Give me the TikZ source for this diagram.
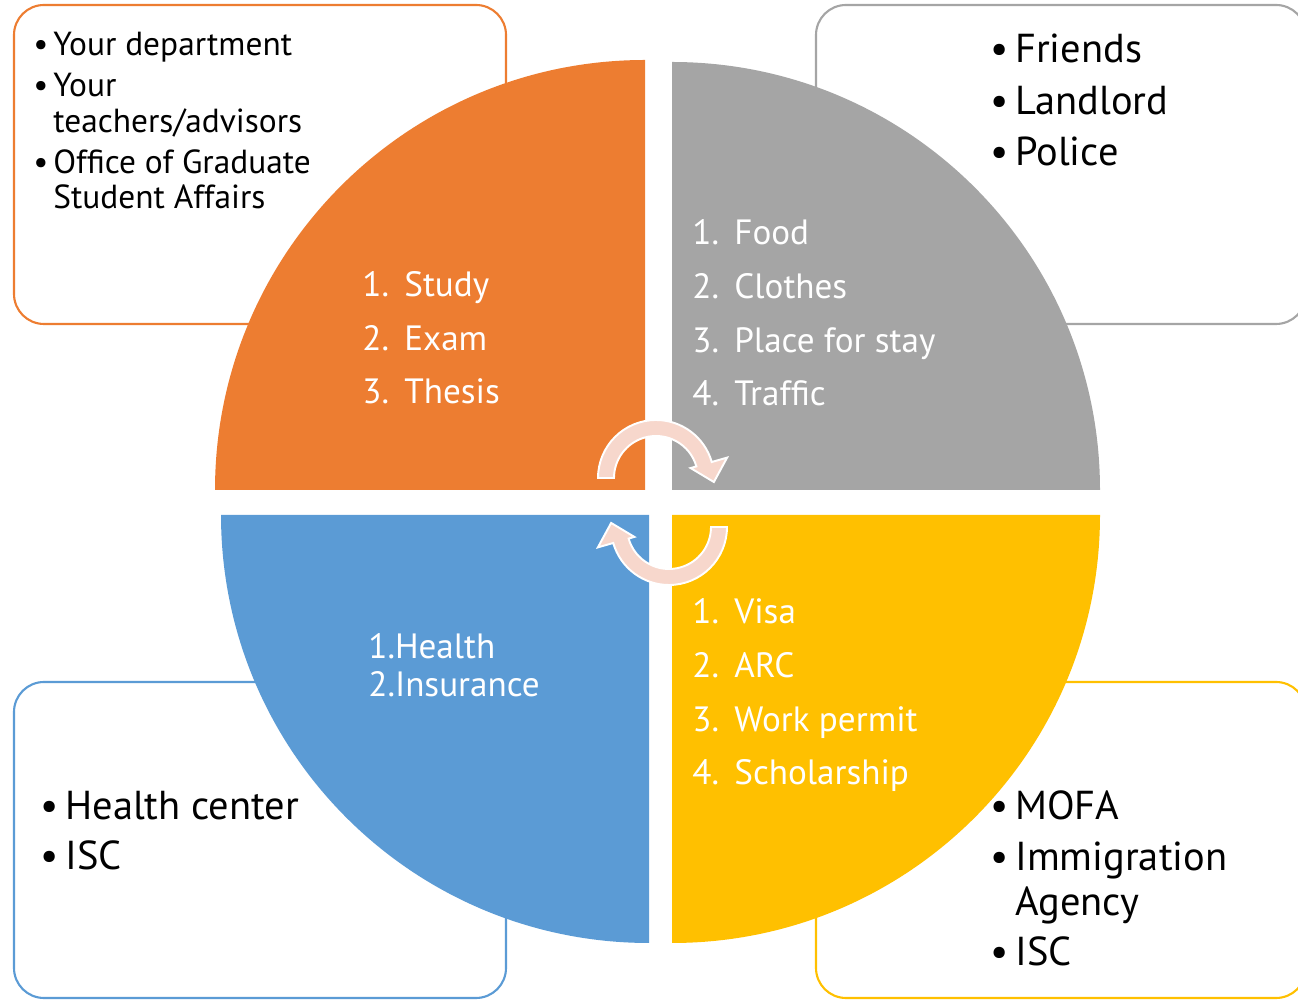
\documentclass[tikz,border=0pt]{standalone}
\usepackage{fontspec}
\setmainfont{PT Sans}
\usepackage{tikz}
\definecolor{qorange}{HTML}{ED7D31}
\definecolor{qgray}{HTML}{A5A5A5}
\definecolor{qblue}{HTML}{5B9BD5}
\definecolor{qyellow}{HTML}{FFC000}
\definecolor{turnpink}{HTML}{F7D7CC}
\tikzstyle{infobox}=[fill=white,%
                     rounded corners = 0.6cm,%
                     line width      = 1.2pt]
\tikzstyle{boxtext}=[anchor=base west,align=left,inner sep=0pt,text=black]
\tikzstyle{quartertext}=[anchor=base west,align=left,inner sep=0pt,text=white,font=\fontsize{20}{30.6}\selectfont]
\tikzstyle{turnarrow}=[fill=turnpink,draw=white,line width=1.1pt,line join=miter]
\newcommand{\bul}[1][0.5cm]{\makebox[#1][l]{\textbullet}}
\newcommand{\num}[1]{\makebox[0.84cm][l]{#1.}}

\begin{document}
\begin{tikzpicture}[x=0.02cm,y=0.02cm]
            \clip (0,0) rectangle (1298,1000);
            % boxes behind the circle
            \draw[infobox,draw=qorange] (14,676) rectangle (506,995);
            \draw[infobox,draw=qgray] (816,676) rectangle (1306,995);
            \draw[infobox,draw=qblue] (14,2) rectangle (506,318);
            \draw[infobox,draw=qyellow] (816,2) rectangle (1306,318);
            % four quarters
            \fill[qorange] (645,510) -- (215,510) arc[start angle=180,end angle=90,radius=430] -- cycle;
            \fill[qgray] (672,510) -- (672,938) arc[start angle=90,end angle=0,radius=428] -- cycle;
            \fill[qblue] (649,485) -- (649,57) arc[start angle=270,end angle=180,radius=428] -- cycle;
            \fill[qyellow] (672,485) -- (1100,485) arc[start angle=0,end angle=-90,radius=428] -- cycle;
            % turning arrows
            \coordinate (ta) at (656,522);
            \coordinate (ba) at (669,473);
            \filldraw[turnarrow] ([shift={(180:58)}]ta) arc[start angle=180,end angle=16,radius=58]
                -- ([shift={(16:74)}]ta) -- ([shift={(-4:58)}]ta) -- ([shift={(16:36)}]ta)
                -- ([shift={(16:42)}]ta) arc[start angle=16,end angle=180,radius=42] -- cycle;
            \filldraw[turnarrow] ([shift={(0:58)}]ba) arc[start angle=0,end angle=-164,radius=58]
                -- ([shift={(-164:74)}]ba) -- ([shift={(176:58)}]ba) -- ([shift={(-164:36)}]ba)
                -- ([shift={(-164:42)}]ba) arc[start angle=-164,end angle=0,radius=42] -- cycle;
            % quarter texts (anchored at the last line)
            \node[quartertext] (study) at (362,596) {\num{1}Study\\ \num{2}Exam\\ \num{3}Thesis};
            \node[quartertext] (living) at (692,594) {\num{1}Food\\ \num{2}Clothes\\ \num{3}Place for stay\\ \num{4}Traffic};
            \node[quartertext] (health) at (368,303) [font=\fontsize{20}{22}\selectfont] {1.Health\\ 2.Insurance};
            \node[quartertext] (visa) at (692,215) {\num{1}Visa\\ \num{2}ARC\\ \num{3}Work permit\\ \num{4}Scholarship};
            % box texts
            \node[boxtext,font=\fontsize{19}{20.4}\selectfont] (dept) at (33,791)
                {\bul[0.4cm]Your department\\[3pt] \bul[0.4cm]Your\\ \hspace*{0.4cm}teachers/advisors\\[3pt]
                 \bul[0.4cm]Office of Graduate\\ \hspace*{0.4cm}Student Affairs};
            \node[boxtext,font=\fontsize{23}{25.5}\selectfont] (friends) at (990,834)
                {\bul Friends\\[4pt] \bul Landlord\\[4pt] \bul Police};
            \node[boxtext,font=\fontsize{23}{25.5}\selectfont] (center) at (40,130)
                {\bul Health center\\[3.5pt] \bul ISC};
            \node[boxtext,font=\fontsize{23}{25.5}\selectfont] (mofa) at (990,34)
                {\bul MOFA\\[3.5pt] \bul Immigration\\ \hspace*{0.5cm}Agency\\[3.5pt] \bul ISC};
  \end{tikzpicture}
\end{document}
